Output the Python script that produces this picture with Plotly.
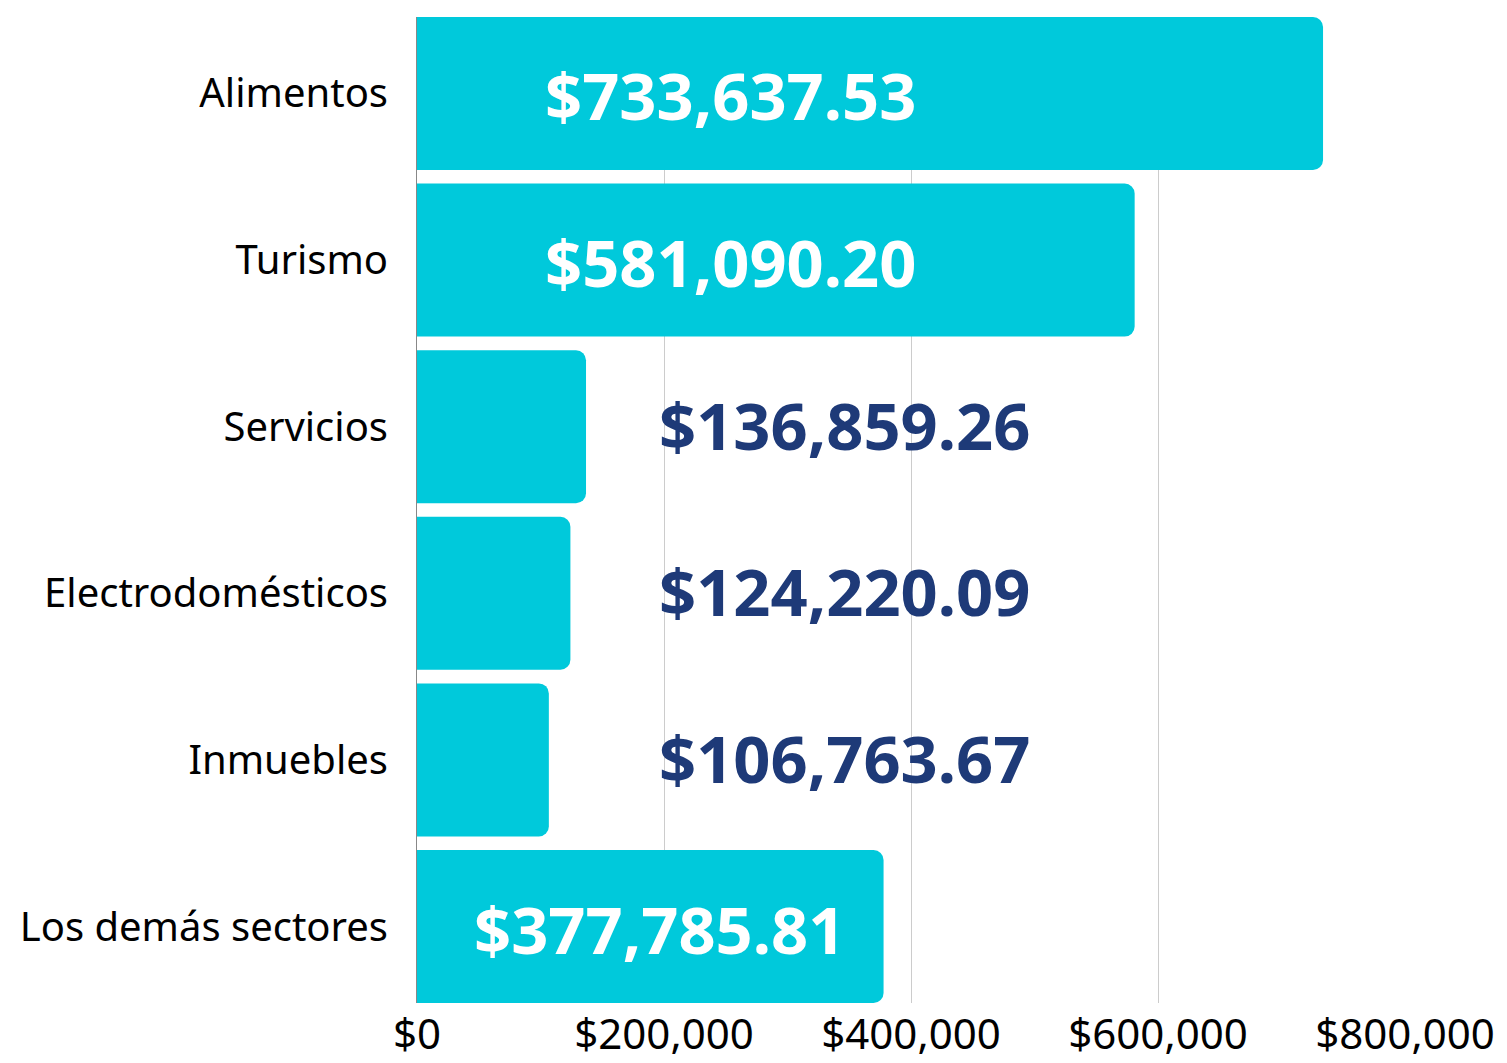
import plotly.graph_objects as go

categories = ["Alimentos", "Turismo", "Servicios", "Electrodomésticos", "Inmuebles", "Los demás sectores"]
values = [733637.53, 581090.20, 136859.26, 124220.09, 106763.67, 377785.81]
label_inside = [True, True, False, False, False, True]
label_x = [254000, 254000, 346500, 346500, 346500, 196000]
tick_vals = [0, 200000, 400000, 600000, 800000]
tick_text = ["$0", "$200,000", "$400,000", "$600,000", "$800,000"]

BAR = "#00C9DB"
DARK = "#1E3A78"
GAP = 0.082

fig = go.Figure(go.Bar(
    x=values, y=categories, orientation="h",
    marker=dict(color=BAR, line=dict(width=0), cornerradius=10),
    hoverinfo="skip",
))

for c, v, ins, lx in zip(categories, values, label_inside, label_x):
    fig.add_annotation(
        x=lx, y=c, xref="x", yref="y", text=f"${v:,.2f}", showarrow=False,
        xanchor="center", yanchor="middle", yshift=-2 if ins else 2,
        font=dict(family="Noto Sans", size=65, color="white" if ins else DARK, weight="bold"),
    )

n = len(categories)
fig.update_layout(
    width=1507, height=1063,
    margin=dict(l=417, r=102, t=17, b=60, autoexpand=False),
    paper_bgcolor="white", plot_bgcolor="white",
    bargap=GAP, showlegend=False,
    font=dict(family="Noto Sans", color="black"),
)
fig.update_xaxes(
    range=[0, 800000], tickvals=tick_vals, ticktext=tick_text,
    showgrid=True, gridcolor="#cccccc", gridwidth=1, zeroline=False,
    tickfont=dict(size=42, color="black"), ticks="", showline=False,
    ticklabelstandoff=3, automargin=False,
)
fig.update_yaxes(
    categoryorder="array", categoryarray=categories,
    range=[n - 0.5 - GAP / 2, -0.5 + GAP / 2],
    showline=True, linecolor="#888888", linewidth=1, ticks="",
    tickfont=dict(size=40, color="black"), ticklabelstandoff=20, automargin=False,
)

fig.write_html(
    "out.html",
    config={"displayModeBar": False},
    post_script="document.body.style.margin='0';document.body.style.overflow='hidden';",
)
